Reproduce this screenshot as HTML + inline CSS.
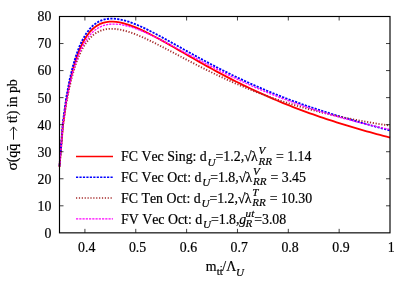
<!DOCTYPE html>
<html><head><meta charset="utf-8"><title>plot</title>
<style>
html,body{margin:0;padding:0;background:#fff;}
body{width:415px;height:291px;overflow:hidden;}
svg{display:block;will-change:transform;}
text{font-family:"Liberation Serif",serif;font-size:13.83px;fill:#000;font-kerning:none;stroke:#000;stroke-width:0.2px;}
.i{font-style:italic;}
.s{font-size:11.07px;}
.tk{stroke:#000;stroke-width:1.15;fill:none;}
</style></head><body>
<svg width="415" height="291" viewBox="0 0 415 291">
<rect x="0" y="0" width="415" height="291" fill="#fff"/>
<!-- curves -->
<g fill="none" stroke-linejoin="round">
<path d="M59.50,166.62 L62.84,125.93 L66.18,101.28 L69.52,83.42 L72.85,69.54 L76.19,58.43 L79.53,49.50 L82.87,42.37 L86.21,36.69 L89.55,32.22 L92.88,28.75 L96.22,26.12 L99.56,24.21 L102.90,22.89 L106.24,22.08 L109.58,21.69 L112.91,21.65 L116.25,21.90 L119.59,22.41 L122.93,23.14 L126.27,24.06 L129.61,25.14 L132.94,26.36 L136.28,27.70 L139.62,29.15 L142.96,30.69 L146.30,32.30 L149.64,33.98 L152.97,35.71 L156.31,37.49 L159.65,39.31 L162.99,41.16 L166.33,43.03 L169.67,44.92 L173.01,46.82 L176.34,48.73 L179.68,50.65 L183.02,52.57 L186.36,54.49 L189.70,56.40 L193.04,58.31 L196.37,60.21 L199.71,62.10 L203.05,63.97 L206.39,65.83 L209.73,67.68 L213.07,69.51 L216.40,71.32 L219.74,73.11 L223.08,74.88 L226.42,76.63 L229.76,78.36 L233.10,80.07 L236.43,81.76 L239.77,83.43 L243.11,85.07 L246.45,86.69 L249.79,88.29 L253.13,89.87 L256.46,91.42 L259.80,92.95 L263.14,94.46 L266.48,95.94 L269.82,97.41 L273.16,98.85 L276.49,100.26 L279.83,101.66 L283.17,103.03 L286.51,104.39 L289.85,105.72 L293.19,107.03 L296.53,108.32 L299.86,109.58 L303.20,110.83 L306.54,112.06 L309.88,113.27 L313.22,114.46 L316.56,115.63 L319.89,116.79 L323.23,117.92 L326.57,119.04 L329.91,120.14 L333.25,121.23 L336.59,122.30 L339.92,123.35 L343.26,124.39 L346.60,125.41 L349.94,126.42 L353.28,127.42 L356.62,128.40 L359.95,129.37 L363.29,130.33 L366.63,131.28 L369.97,132.21 L373.31,133.13 L376.65,134.05 L379.98,134.95 L383.32,135.84 L386.66,136.73 L390.00,137.61" stroke="#ff0000" stroke-width="1.85"/>
<path d="M59.50,165.77 L62.84,122.77 L66.18,97.98 L69.52,80.18 L72.85,66.30 L76.19,55.16 L79.53,46.25 L82.87,39.17 L86.21,33.54 L89.55,29.11 L92.88,25.68 L96.22,23.07 L99.56,21.17 L102.90,19.86 L106.24,19.04 L109.58,18.65 L112.91,18.60 L116.25,18.85 L119.59,19.35 L122.93,20.07 L126.27,20.97 L129.61,22.04 L132.94,23.25 L136.28,24.58 L139.62,26.01 L142.96,27.53 L146.30,29.12 L149.64,30.77 L152.97,32.48 L156.31,34.23 L159.65,36.01 L162.99,37.82 L166.33,39.66 L169.67,41.51 L173.01,43.37 L176.34,45.23 L179.68,47.10 L183.02,48.97 L186.36,50.84 L189.70,52.69 L193.04,54.54 L196.37,56.38 L199.71,58.21 L203.05,60.02 L206.39,61.81 L209.73,63.59 L213.07,65.35 L216.40,67.09 L219.74,68.81 L223.08,70.51 L226.42,72.19 L229.76,73.85 L233.10,75.48 L236.43,77.09 L239.77,78.68 L243.11,80.24 L246.45,81.79 L249.79,83.31 L253.13,84.80 L256.46,86.27 L259.80,87.72 L263.14,89.15 L266.48,90.56 L269.82,91.94 L273.16,93.30 L276.49,94.64 L279.83,95.96 L283.17,97.25 L286.51,98.53 L289.85,99.78 L293.19,101.02 L296.53,102.23 L299.86,103.43 L303.20,104.61 L306.54,105.77 L309.88,106.91 L313.22,108.04 L316.56,109.15 L319.89,110.24 L323.23,111.31 L326.57,112.38 L329.91,113.42 L333.25,114.46 L336.59,115.48 L339.92,116.48 L343.26,117.48 L346.60,118.46 L349.94,119.43 L353.28,120.39 L356.62,121.34 L359.95,122.29 L363.29,123.22 L366.63,124.15 L369.97,125.06 L373.31,125.98 L376.65,126.88 L379.98,127.78 L383.32,128.67 L386.66,129.56 L390.00,130.45" stroke="#0000ff" stroke-width="1.85" stroke-dasharray="2.2 1.25"/>
<path d="M59.50,166.88 L62.84,127.07 L66.18,103.84 L69.52,87.00 L72.85,73.69 L76.19,63.04 L79.53,54.60 L82.87,47.91 L86.21,42.62 L89.55,38.47 L92.88,35.27 L96.22,32.86 L99.56,31.11 L102.90,29.92 L106.24,29.18 L109.58,28.83 L112.91,28.80 L116.25,29.06 L119.59,29.56 L122.93,30.26 L126.27,31.14 L129.61,32.18 L132.94,33.34 L136.28,34.62 L139.62,35.99 L142.96,37.45 L146.30,38.97 L149.64,40.55 L152.97,42.18 L156.31,43.85 L159.65,45.55 L162.99,47.27 L166.33,49.01 L169.67,50.76 L173.01,52.52 L176.34,54.29 L179.68,56.05 L183.02,57.81 L186.36,59.57 L189.70,61.31 L193.04,63.05 L196.37,64.77 L199.71,66.47 L203.05,68.16 L206.39,69.83 L209.73,71.48 L213.07,73.10 L216.40,74.71 L219.74,76.29 L223.08,77.85 L226.42,79.39 L229.76,80.90 L233.10,82.38 L236.43,83.84 L239.77,85.28 L243.11,86.69 L246.45,88.07 L249.79,89.43 L253.13,90.75 L256.46,92.06 L259.80,93.33 L263.14,94.59 L266.48,95.81 L269.82,97.01 L273.16,98.18 L276.49,99.33 L279.83,100.45 L283.17,101.55 L286.51,102.62 L289.85,103.66 L293.19,104.69 L296.53,105.69 L299.86,106.66 L303.20,107.61 L306.54,108.54 L309.88,109.45 L313.22,110.33 L316.56,111.20 L319.89,112.04 L323.23,112.86 L326.57,113.66 L329.91,114.44 L333.25,115.20 L336.59,115.95 L339.92,116.67 L343.26,117.38 L346.60,118.07 L349.94,118.74 L353.28,119.39 L356.62,120.03 L359.95,120.66 L363.29,121.27 L366.63,121.86 L369.97,122.44 L373.31,123.01 L376.65,123.56 L379.98,124.10 L383.32,124.63 L386.66,125.15 L390.00,125.66" stroke="#a52a2a" stroke-width="1.85" stroke-dasharray="1.2 1.68"/>
<path d="M59.50,166.48 L62.84,125.95 L66.18,102.19 L69.52,85.21 L72.85,72.00 L76.19,61.30 L79.53,52.56 L82.87,45.53 L86.21,39.90 L89.55,35.43 L92.88,31.92 L96.22,29.22 L99.56,27.20 L102.90,25.75 L106.24,24.79 L109.58,24.24 L112.91,24.03 L116.25,24.12 L119.59,24.45 L122.93,25.01 L126.27,25.75 L129.61,26.65 L132.94,27.70 L136.28,28.87 L139.62,30.15 L142.96,31.52 L146.30,32.96 L149.64,34.48 L152.97,36.05 L156.31,37.67 L159.65,39.33 L162.99,41.02 L166.33,42.74 L169.67,44.48 L173.01,46.24 L176.34,48.00 L179.68,49.78 L183.02,51.56 L186.36,53.35 L189.70,55.13 L193.04,56.91 L196.37,58.68 L199.71,60.44 L203.05,62.19 L206.39,63.93 L209.73,65.66 L213.07,67.37 L216.40,69.07 L219.74,70.75 L223.08,72.41 L226.42,74.06 L229.76,75.68 L233.10,77.29 L236.43,78.87 L239.77,80.44 L243.11,81.98 L246.45,83.50 L249.79,85.00 L253.13,86.48 L256.46,87.94 L259.80,89.37 L263.14,90.79 L266.48,92.18 L269.82,93.54 L273.16,94.89 L276.49,96.21 L279.83,97.52 L283.17,98.79 L286.51,100.05 L289.85,101.29 L293.19,102.50 L296.53,103.69 L299.86,104.87 L303.20,106.02 L306.54,107.15 L309.88,108.26 L313.22,109.35 L316.56,110.41 L319.89,111.46 L323.23,112.49 L326.57,113.51 L329.91,114.50 L333.25,115.47 L336.59,116.43 L339.92,117.36 L343.26,118.28 L346.60,119.19 L349.94,120.07 L353.28,120.94 L356.62,121.80 L359.95,122.64 L363.29,123.46 L366.63,124.27 L369.97,125.06 L373.31,125.84 L376.65,126.60 L379.98,127.35 L383.32,128.09 L386.66,128.82 L390.00,129.53" stroke="#ff00ff" stroke-width="1.3" stroke-dasharray="2.2 1.05"/>
</g>
<!-- frame -->
<rect x="59.5" y="16.5" width="330.5" height="216.35" fill="none" stroke="#000" stroke-width="1.15"/>
<!-- ticks -->
<g class="tk" id="ticks" style="stroke-width:0.75">
<path d="M84.92,232.85v-4.00 M84.92,16.50v4.00"/>
<path d="M135.77,232.85v-4.00 M135.77,16.50v4.00"/>
<path d="M186.62,232.85v-4.00 M186.62,16.50v4.00"/>
<path d="M237.46,232.85v-4.00 M237.46,16.50v4.00"/>
<path d="M288.31,232.85v-4.00 M288.31,16.50v4.00"/>
<path d="M339.15,232.85v-4.00 M339.15,16.50v4.00"/>
<path d="M59.50,205.81h4.00 M390.00,205.81h-4.00"/>
<path d="M59.50,178.76h4.00 M390.00,178.76h-4.00"/>
<path d="M59.50,151.72h4.00 M390.00,151.72h-4.00"/>
<path d="M59.50,124.67h4.00 M390.00,124.67h-4.00"/>
<path d="M59.50,97.63h4.00 M390.00,97.63h-4.00"/>
<path d="M59.50,70.59h4.00 M390.00,70.59h-4.00"/>
<path d="M59.50,43.54h4.00 M390.00,43.54h-4.00"/>
</g>
<!-- tick labels -->
<g text-anchor="end">
<text x="51.3" y="237.75">0</text>
<text x="51.3" y="210.71">10</text>
<text x="51.3" y="183.66">20</text>
<text x="51.3" y="156.62">30</text>
<text x="51.3" y="129.57">40</text>
<text x="51.3" y="102.53">50</text>
<text x="51.3" y="75.49">60</text>
<text x="51.3" y="48.44">70</text>
<text x="51.3" y="21.40">80</text>
</g>
<g text-anchor="middle">
<text x="86.72" y="252">0.4</text>
<text x="137.57" y="252">0.5</text>
<text x="188.42" y="252">0.6</text>
<text x="239.26" y="252">0.7</text>
<text x="290.11" y="252">0.8</text>
<text x="340.95" y="252">0.9</text>
<text x="391.20" y="252">1</text>
</g>
<!-- legend -->
<g fill="none">
<path d="M76,156.5H113" stroke="#ff0000" stroke-width="1.73"/>
<path d="M76,177.25H113" stroke="#0000ff" stroke-width="1.73" stroke-dasharray="2.2 1.25"/>
<path d="M76,198H113" stroke="#a52a2a" stroke-width="1.73" stroke-dasharray="1.2 1.68"/>
<path d="M76,218.75H113" stroke="#ff00ff" stroke-width="1.25" stroke-dasharray="2.2 1.05"/>
</g>
<text x="121.10" y="161.30">FC Vec Sing: d</text>
<text class="i s" x="207.57" y="165.60">U</text>
<text x="215.57" y="161.30">=1.2,</text>
<text x="243.91" y="161.30">√</text>
<text x="250.91" y="161.30">λ</text>
<text class="i s" x="258.50" y="153.60">V</text>
<text class="i s" x="258.50" y="164.60">RR</text>
<text x="275.88" y="161.30">= 1.14</text>
<text x="121.10" y="182.10">FC Vec Oct: d</text>
<text class="i s" x="202.18" y="186.40">U</text>
<text x="210.17" y="182.10">=1.8,</text>
<text x="238.52" y="182.10">√</text>
<text x="245.51" y="182.10">λ</text>
<text class="i s" x="253.10" y="174.80">V</text>
<text class="i s" x="253.10" y="185.40">RR</text>
<text x="270.48" y="182.10">= 3.45</text>
<text x="121.10" y="202.80">FC Ten Oct: d</text>
<text class="i s" x="201.42" y="207.10">U</text>
<text x="209.41" y="202.80">=1.2,</text>
<text x="237.75" y="202.80">√</text>
<text x="244.75" y="202.80">λ</text>
<text class="i s" x="252.34" y="196.00">T</text>
<text class="i s" x="252.34" y="206.10">RR</text>
<text x="269.72" y="202.80">= 10.30</text>
<text x="121.10" y="223.60">FV Vec Oct: d</text>
<text class="i s" x="202.94" y="227.90">U</text>
<text x="210.94" y="223.60">=1.8,</text>
<text class="i" x="239.18" y="223.60">g</text>
<text class="i s" x="245.60" y="216.70">ut</text>
<text class="i s" x="245.60" y="226.90">R</text>
<text x="254.21" y="223.60">=3.08</text>
<!-- axis labels -->
<g transform="translate(16.9,169.6) rotate(-90)"><text x="-0.9" y="0" style="font-size:15.3px">σ</text><text x="7.3" y="0">(qq</text><text x="46.6" y="0">tt) in pb</text><path class="tk" style="stroke-width:0.9" d="M19.3,-9.3h4.3 M50.4,-9.2h2.9"/><path class="tk" style="stroke-width:0.9" d="M29.9,-3.4H42.5 M38.9,-6.8L42.7,-3.4L38.9,0"/></g>
<text x="205.8" y="270.5">m</text><text class="s" x="216.8" y="274.5">tt</text><path class="tk" style="stroke-width:0.8" d="M220.4,266.6h1.6"/><text x="222.3" y="270.5">/Λ</text><text class="i s" x="236.0" y="275.5">U</text>
</svg>
</body></html>
